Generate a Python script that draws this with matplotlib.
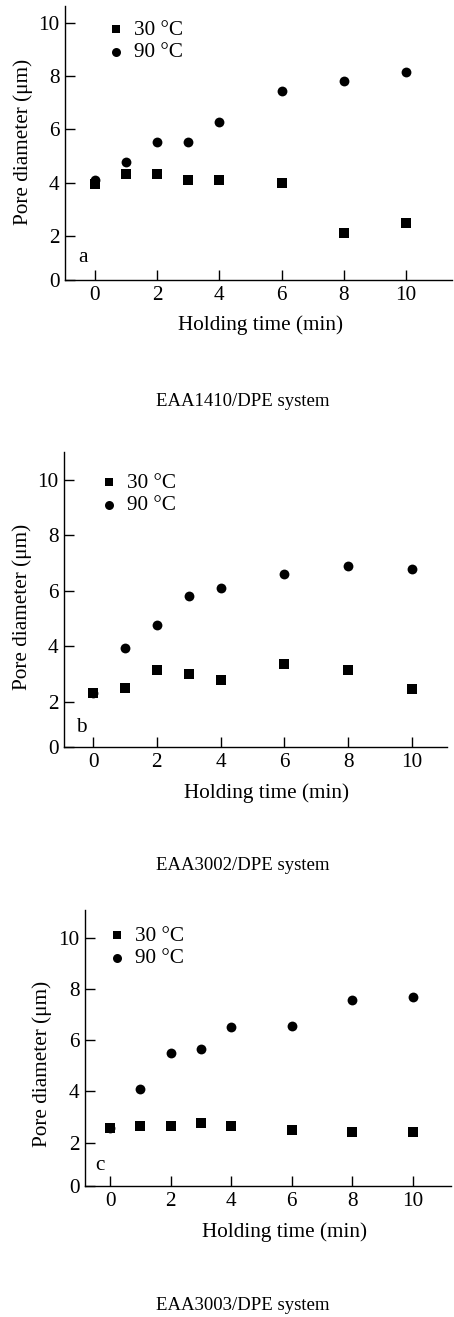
import matplotlib
matplotlib.use("Agg")
import matplotlib.pyplot as plt

plt.rcParams['font.family'] = ['Liberation Serif', 'DejaVu Serif']
plt.rcParams['font.size'] = 15.3

W, H = 454, 1317

# holding time (min)
time = [0, 1, 2, 3, 4, 6, 8, 10]

# pore diameter (um)
a_30 = [3.94, 4.33, 4.34, 4.10, 4.10, 3.98, 2.13, 2.50]
a_90 = [4.10, 4.76, 5.51, 5.51, 6.29, 7.44, 7.80, 8.14]
b_30 = [2.34, 2.52, 3.14, 3.00, 2.78, 3.36, 3.17, 2.48]
b_90 = [2.34, 3.96, 4.76, 5.82, 6.12, 6.59, 6.91, 6.80]
c_30 = [2.56, 2.65, 2.65, 2.78, 2.67, 2.50, 2.41, 2.41]
c_90 = [2.56, 4.08, 5.50, 5.67, 6.53, 6.56, 7.56, 7.67]

xticks = [0, 2, 4, 6, 8, 10]
ytick_labels = ['0', '2', '4', '6', '8', '10']
series_labels = ['30 °C', '90 °C']
letters = ['a', 'b', 'c']
captions = ['EAA1410/DPE system', 'EAA3002/DPE system', 'EAA3003/DPE system']


def fx(px):
    return px / W


def fy(py):
    return 1 - py / H


# per panel: axes box in pixels (left, top, right, bottom), x and y limits
panels = [
    dict(box=(65, 6, 452, 280), xlim=(-0.96, 11.48), ylim=(0.35, 10.63),
         data=(a_30, a_90), leg=(107, 20), letter=(83, 257),
         xlab=(261, 325), ylab=(23, 142), cap=(243, 402)),
    dict(box=(64, 452, 447, 747), xlim=(-0.91, 11.1), ylim=(0.38, 11.0),
         data=(b_30, b_90), leg=(100, 473), letter=(81, 727),
         xlab=(267, 793), ylab=(22, 607), cap=(243, 865)),
    dict(box=(85, 910, 451, 1186), xlim=(-0.83, 11.27), ylim=(0.31, 11.08),
         data=(c_30, c_90), leg=(108, 926), letter=(100, 1165),
         xlab=(285, 1232), ylab=(42, 1064), cap=(243, 1305)),
]

fig = plt.figure(figsize=(W / 100, H / 100), dpi=100)

for i, p in enumerate(panels):
    l, t, r, b = p['box']
    ax = fig.add_axes([fx(l), fy(b), (r - l) / W, (b - t) / H])
    s30, s90 = p['data']
    h90 = ax.scatter(time, s90, marker='o', s=50, color='black', lw=0, zorder=3)
    h30 = ax.scatter(time, s30, marker='s', s=52, color='black', lw=0, zorder=4)

    ax.set_xlim(*p['xlim'])
    ax.set_ylim(*p['ylim'])
    ax.set_xticks(xticks)
    ax.set_yticks([p['ylim'][0], 2, 4, 6, 8, 10])
    ax.set_yticklabels(ytick_labels)
    ax.spines['top'].set_visible(False)
    ax.spines['right'].set_visible(False)
    for sp in ('left', 'bottom'):
        ax.spines[sp].set_linewidth(1.0)
    ax.tick_params(direction='in', length=7, width=1.0, pad=4)

    leg = ax.legend([h30, h90], series_labels, loc='upper left',
                    bbox_to_anchor=(fx(p['leg'][0]), fy(p['leg'][1])),
                    bbox_transform=fig.transFigure, frameon=False,
                    handlelength=0.8, handletextpad=0.45,
                    borderpad=0, borderaxespad=0, labelspacing=0.12)
    leg.legend_handles[0].set_sizes([30])
    leg.legend_handles[1].set_sizes([42])

    fig.text(fx(p['letter'][0]), fy(p['letter'][1]), letters[i],
             ha='center', va='center')
    fig.text(fx(p['xlab'][0]), fy(p['xlab'][1]), 'Holding time (min)',
             ha='center', va='center')
    fig.text(fx(p['ylab'][0]), fy(p['ylab'][1]), 'Pore diameter (μm)',
             ha='center', va='center', rotation=90)
    fig.text(fx(p['cap'][0]), fy(p['cap'][1]), captions[i],
             ha='center', va='center', fontsize=13.5)

fig.savefig('out.png', dpi=100)
